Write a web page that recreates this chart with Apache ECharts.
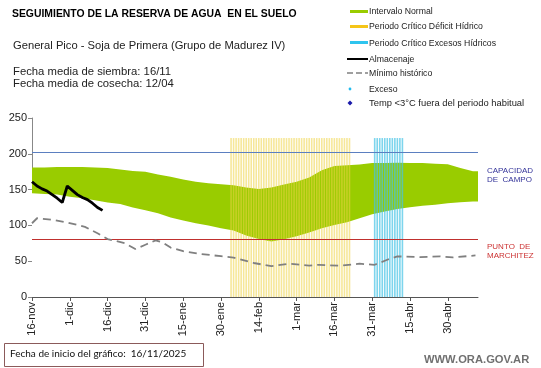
<!DOCTYPE html>
<html><head><meta charset="utf-8">
<script src="https://cdn.jsdelivr.net/npm/echarts@6/dist/echarts.min.js"></script>
<style>html,body{margin:0;padding:0;background:#fff}#c{width:541px;height:368px}</style>
</head><body><div id="c"></div>
<script>
// ---- data (x = days since 16-nov) ----
const tickLabels = ['16-nov','1-dic','16-dic','31-dic','15-ene','30-ene','14-feb','1-mar','16-mar','31-mar','15-abr','30-abr'];
const tickStep = 15;
const lastDay = 177;

const bandDays = [0,5,10,15,20,25,30,35,40,45,50,55,60,65,70,75,80,85,90,95,100,105,110,115,120,125,130,135,140,145,150,155,160,165,170,175,177];
const normalUpper = [181,181,181.5,181.5,181.5,181,180,178,176,175,171,168,164,161,159,157.5,156,153,151,153,157,161,167,177,183,184,185,187,187,187.5,187,187,186,185.5,180,175.5,175.5];
const normalLower = [145,144,143,140,138,135,132,130,125,121,117,111,107,103,100,96,93,86,81,77.5,80.5,85,90,96,100.5,104.5,110,115.5,119.5,123,125.5,127.5,129,131,132.5,133.5,133.5];

const almDays = [0,2,4,6,8,10,12,14,16,18,20,22,24,26,28];
const almacenaje = [161,155,151,148,143,138,132,155,149,143,139,136,131,125,121];

const minDays = [0,2,8,14,21,26,30,37,41,45,49,52,55,60,67,75,80,88,95,102,110,114,122,130,136,141,145,154,162,167,176];
const minimoHist = [103,110,108,104,98,89,81,75,67,73,79,76,69,64,60,57,55,47.5,43,46.5,43.7,45,43.7,46.5,45,52,56.7,55.8,56.7,55.3,58];

const deficitDays = [79,80,81,82,83,84,85,86,87,88,89,90,91,92,93,94,95,96,97,98,99,100,101,102,103,104,105,106,107,108,109,110,111,112,113,114,115,116,117,118,119,120,121,122,123,124,125,126];
const excesoDays = [136,137,138,139,140,141,142,143,144,145,146,147];
const periodTop = 222;

const capacidadCampo = 202;
const puntoMarchitez = 80;

// ---- build ----
const pair = (xs, ys) => xs.map((x, i) => [x, ys[i]]);
const tickValues = tickLabels.map((_, i) => i * tickStep);
const FONT = '"Liberation Sans", Arial, sans-serif';

const chart = echarts.init(document.getElementById('c'), null, {renderer: 'canvas'});

const legendX = 369;
function legendText(y, t) {
  return {type: 'text', left: legendX, top: y, style: {text: t, font: '8.7px ' + FONT, fill: '#222'}};
}

chart.setOption({
  animation: false,
  grid: {left: 32, right: 63, top: 118, bottom: 71, outerBoundsMode: 'none', containLabel: false},
  xAxis: {
    type: 'value', min: 0, max: lastDay, interval: tickStep,
    splitLine: {show: false},
    axisLine: {lineStyle: {color: '#555', width: 1}},
    axisTick: {customValues: tickValues, length: 4, lineStyle: {color: '#555'}},
    axisLabel: {
      customValues: tickValues, rotate: 90, color: '#222', fontSize: 11, fontFamily: FONT, margin: 5,
      formatter: v => tickLabels[Math.round(v / tickStep)] || ''
    }
  },
  yAxis: {
    type: 'value', min: 0, max: 250, interval: 50,
    name: 'Milímetros', nameLocation: 'middle', nameGap: 25,
    nameTextStyle: {fontSize: 7, color: '#111', fontFamily: FONT, fontWeight: 'bold'},
    splitLine: {show: false},
    axisLine: {show: true, lineStyle: {color: '#888'}},
    axisTick: {show: true, length: 4, lineStyle: {color: '#888'}},
    axisLabel: {color: '#222', fontSize: 11, fontFamily: FONT, margin: 5}
  },
  series: [
    {type: 'line', name: 'Intervalo Normal', data: pair(bandDays, normalUpper), symbol: 'none',
     lineStyle: {width: 0, opacity: 0}, areaStyle: {color: '#99CC00', opacity: 1, origin: 'start'}, z: 1, silent: true},
    {type: 'line', name: 'mask', data: pair(bandDays, normalLower), symbol: 'none',
     lineStyle: {width: 0, opacity: 0}, areaStyle: {color: '#ffffff', opacity: 1, origin: 'start'}, z: 2, silent: true},
    {type: 'bar', name: 'Periodo Crítico Déficit Hídrico', data: deficitDays.map(d => [d, periodTop]),
     barWidth: 1.6, itemStyle: {color: 'rgba(238,212,70,0.55)'}, z: 3, silent: true},
    {type: 'bar', name: 'Periodo Crítico Excesos Hídricos', data: excesoDays.map(d => [d, periodTop]),
     barWidth: 1.6, barGap: '-100%', itemStyle: {color: 'rgba(70,195,230,0.7)'}, z: 3, silent: true},
    {type: 'line', name: 'Mínimo histórico', data: pair(minDays, minimoHist), symbol: 'none',
     lineStyle: {color: '#808080', width: 1.8, type: [8, 5]}, z: 5,
     markLine: {silent: true, symbol: 'none', label: {show: false},
       data: [
         {yAxis: capacidadCampo, lineStyle: {color: '#5B7FC0', width: 1, type: 'solid'}},
         {yAxis: puntoMarchitez, lineStyle: {color: '#C0302E', width: 1, type: 'solid'}}
       ]}},
    {type: 'line', name: 'Almacenaje', data: pair(almDays, almacenaje), symbol: 'none',
     lineStyle: {color: '#000', width: 2.8}, z: 6}
  ],
  graphic: [
    {type: 'text', left: 12, top: 9, style: {text: 'SEGUIMIENTO DE LA RESERVA DE AGUA  EN EL SUELO', font: 'bold 10.4px ' + FONT, fill: '#000'}},
    {type: 'text', left: 13, top: 40, style: {text: 'General Pico - Soja de Primera (Grupo de Madurez IV)', font: '11.2px ' + FONT, fill: '#222'}},
    {type: 'text', left: 13, top: 66, style: {text: 'Fecha media de siembra: 16/11', font: '11.3px ' + FONT, fill: '#222'}},
    {type: 'text', left: 13, top: 78, style: {text: 'Fecha media de cosecha: 12/04', font: '11.3px ' + FONT, fill: '#222'}},
    // legend
    {type: 'rect', left: 350, top: 10, shape: {width: 18, height: 3}, style: {fill: '#99CC00'}},
    legendText(7, 'Intervalo Normal'),
    {type: 'rect', left: 350, top: 25, shape: {width: 18, height: 3}, style: {fill: '#F5C518'}},
    legendText(22, 'Periodo Crítico Déficit Hídrico'),
    {type: 'rect', left: 350, top: 41, shape: {width: 18, height: 3}, style: {fill: '#2EC4EE'}},
    legendText(39, 'Periodo Crítico Excesos Hídricos'),
    {type: 'line', shape: {x1: 347, y1: 59, x2: 368, y2: 59}, style: {stroke: '#000', lineWidth: 2}},
    legendText(55, 'Almacenaje'),
    {type: 'line', shape: {x1: 347, y1: 73, x2: 368, y2: 73}, style: {stroke: '#808080', lineWidth: 1.5, lineDash: [6, 3]}},
    legendText(69, 'Mínimo histórico'),
    {type: 'circle', shape: {cx: 350, cy: 89, r: 1.4}, style: {fill: '#22BBEE'}},
    legendText(85, 'Exceso'),
    {type: 'polygon', shape: {points: [[350, 100.5], [352.5, 103], [350, 105.5], [347.5, 103]]}, style: {fill: '#1A1AAA'}},
    {type: 'text', left: legendX, top: 99, style: {text: 'Temp <3°C fuera del periodo habitual', font: '9.4px ' + FONT, fill: '#222'}},
    // reference line labels
    {type: 'text', left: 487, top: 166, style: {text: 'CAPACIDAD\nDE  CAMPO', font: '8px ' + FONT, fill: '#333399', lineHeight: 9}},
    {type: 'text', left: 487, top: 242, style: {text: 'PUNTO  DE\nMARCHITEZ', font: '8px ' + FONT, fill: '#CC3333', lineHeight: 9}},
    // footer
    {type: 'rect', left: 4, top: 343, shape: {width: 199, height: 23}, style: {fill: '#fff', stroke: '#8B5A5A', lineWidth: 1}},
    {type: 'text', left: 10, top: 349, style: {text: 'Fecha de inicio del gráfico:  16/11/2025', font: '10px Lato, "Open Sans", sans-serif', fill: '#111'}},
    {type: 'text', left: 424, top: 354, style: {text: 'WWW.ORA.GOV.AR', font: 'bold 11.2px ' + FONT, fill: '#707070'}}
  ]
});
</script></body></html>
